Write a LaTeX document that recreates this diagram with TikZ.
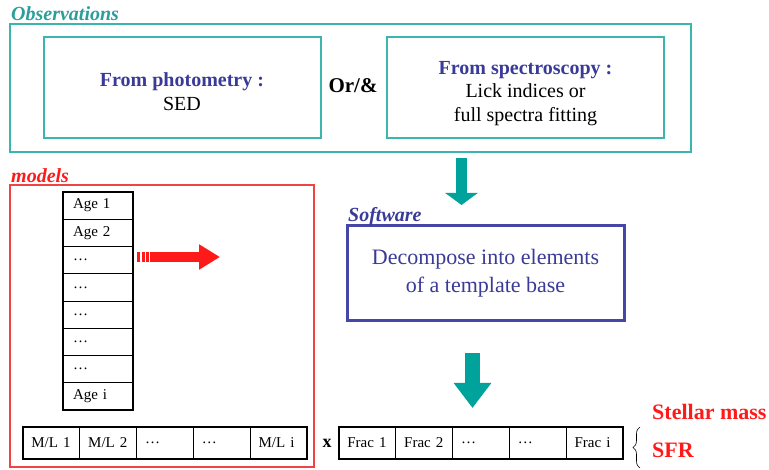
\documentclass[tikz,border=0pt]{standalone}
\usepackage{fontspec}
\setmainfont{Liberation Serif}
\usetikzlibrary{positioning,arrows.meta,decorations.pathreplacing}
\definecolor{obsteal}{HTML}{3DB5AF}
\definecolor{arrteal}{HTML}{00A39B}
\definecolor{labteal}{HTML}{2C9E9A}
\definecolor{softblue}{HTML}{4646A6}
\definecolor{textblue}{HTML}{3A3A98}
\definecolor{modred}{HTML}{EE4444}
\definecolor{txtred}{HTML}{FF1A1A}
\newcommand{\fs}[1]{\fontsize{#1}{#1}\selectfont}

\begin{document}
\begin{tikzpicture}
        [x=1pt,y=-1pt,
        box/.style={draw=obsteal,line width=2pt,minimum width=277pt,minimum height=101pt},
        boxtext/.style={align=center,font=\fontsize{20}{24}\selectfont},
        title/.style={anchor=base west,inner sep=0pt,font=\fs{20}\bfseries\itshape},
        cell/.style={draw,line width=0.7pt,outer sep=0pt,inner sep=0pt,minimum width=56.8pt,
                     minimum height=32pt,text width=40pt,align=left,font=\fs{15}},
        agecell/.style={cell,minimum width=70pt,minimum height=27.25pt,text width=50pt},
        fatarrow/.style={arrteal,line width=11pt}]
        \useasboundingbox (0,0) rectangle (769,470);
        % observations
        \node[draw=obsteal,line width=2pt,minimum width=681pt,minimum height=128pt] (obs) at (350.5,88){};
        \node[title,labteal] (obst) at (11,21){Observations};
        \node[box] (phot) at (182,87.5){};
        \node[boxtext] (photx) at ([yshift=-4pt]phot.center){\textcolor{textblue}{\textbf{From photometry :}}\\SED};
        \node[box] (spec) at (525.5,87.5){};
        \node[boxtext,font=\fontsize{20}{23.5}\selectfont] (specx) at ([yshift=-6pt]spec.center)
              {\textcolor{textblue}{\textbf{From spectroscopy :}}\\Lick indices or\\full spectra fitting};
        \node[font=\fs{21}\bfseries] (or) at (353,86){Or/\&};
        % software
        \node[draw=softblue,line width=3pt,minimum width=277pt,minimum height=95pt,align=center,
              text=textblue,font=\fontsize{22}{28}\selectfont] (soft) at (485.5,273.5)
              {Decompose into elements\\of a template base};
        \node[title,textblue] (softt) at (348,222){Software};
        % models
        \node[draw=modred,line width=1.2pt,minimum width=304pt,minimum height=282pt] (mod) at (162,326){};
        \node[title,txtred] (modt) at (11,183){models};
        \node[agecell] (age1) at (98,205.6){Age 1};
        \node[agecell] (age2)[below=0pt of age1]{Age 2};
        \node[agecell] (age3)[below=0pt of age2]{\ldots};
        \node[agecell] (age4)[below=0pt of age3]{\ldots};
        \node[agecell] (age5)[below=0pt of age4]{\ldots};
        \node[agecell] (age6)[below=0pt of age5]{\ldots};
        \node[agecell] (age7)[below=0pt of age6]{\ldots};
        \node[agecell] (agei)[below=0pt of age7]{Age i};
        \draw[line width=2.5pt] (age1.north west) rectangle (agei.south east);
        \node[cell] (ml1) at (51.4,443){M/L 1};
        \node[cell] (ml2)[right=0pt of ml1]{M/L 2};
        \node[cell] (ml3)[right=0pt of ml2]{\ldots};
        \node[cell] (ml4)[right=0pt of ml3]{\ldots};
        \node[cell] (mli)[right=0pt of ml4]{M/L i};
        \draw[line width=2.5pt] (ml1.north west) rectangle (mli.south east);
        % fractions
        \node[font=\fs{18}\bfseries] (times) at (327,443){x};
        \node[cell] (fr1) at (367.4,443){Frac 1};
        \node[cell] (fr2)[right=0pt of fr1]{Frac 2};
        \node[cell] (fr3)[right=0pt of fr2]{\ldots};
        \node[cell] (fr4)[right=0pt of fr3]{\ldots};
        \node[cell] (fri)[right=0pt of fr4]{Frac i};
        \draw[line width=2.5pt] (fr1.north west) rectangle (fri.south east);
        \node[anchor=base west,inner sep=0pt,text=txtred,font=\fs{22}\bfseries] (mass) at (652,420){Stellar mass};
        \node[anchor=base west,inner sep=0pt,text=txtred,font=\fs{22}\bfseries] (sfr) at (652,457){SFR};
        \coordinate (brb) at (640,468);
        \coordinate (brt) at (640,427);
        \draw[decorate,decoration={brace,amplitude=7pt},line width=0.6pt] (brb) -- (brt);
        % arrows
        \coordinate (a1s) at (461.5,158);
        \coordinate (a1e) at (461.5,205);
        \coordinate (a2s) at (472.5,353);
        \coordinate (a2e) at (472.5,408);
        \coordinate (a3s) at (137,257);
        \coordinate (a3e) at (220,257);
        \draw[fatarrow,-{Triangle[length=12pt,width=32pt]}] (a1s) -- (a1e);
        \draw[fatarrow,line width=15pt,-{Triangle[length=25pt,width=36pt]}] (a2s) -- (a2e);
        \draw[txtred,line width=10pt,dash pattern=on 3pt off 1.5pt on 3pt off 1.5pt on 3pt off 1.2pt on 200pt,
              -{Triangle[length=21pt,width=24pt]}] (a3s) -- (a3e);
\end{tikzpicture}
\end{document}
